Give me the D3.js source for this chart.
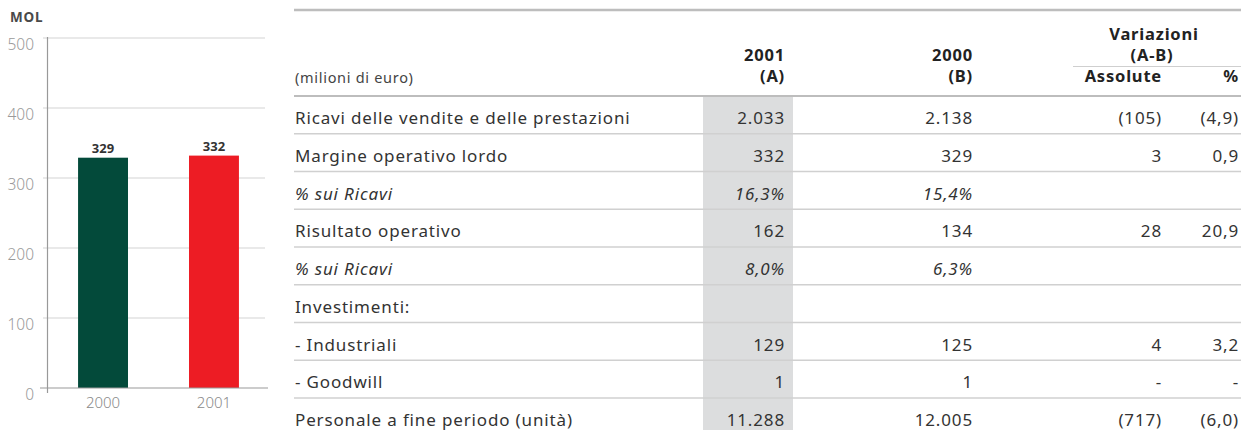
<!DOCTYPE html>
<html>
<head>
<meta charset="utf-8">
<script src="https://cdn.jsdelivr.net/npm/d3@7"></script>
<style>
  body { margin: 0; background: #fff; }
  svg { display: block; }
  text { font-family: "Noto Sans", "Open Sans", sans-serif; }
</style>
</head>
<body>
<div id="chart"></div>
<script>
// Bar chart data (MOL)
const years = ["2000", "2001"];
const molValues = [329, 332];
const molColors = ["#034a3a", "#ed1c24"];
const yTicks = [0, 100, 200, 300, 400, 500];

// Table data
const rowLabels = [
  "Ricavi delle vendite e delle prestazioni",
  "Margine operativo lordo",
  "% sui Ricavi",
  "Risultato operativo",
  "% sui Ricavi",
  "Investimenti:",
  "- Industriali",
  "- Goodwill",
  "Personale a fine periodo (unità)"
];
const colA = ["2.033", "332", "16,3%", "162", "8,0%", "", "129", "1", "11.288"];
const colB = ["2.138", "329", "15,4%", "134", "6,3%", "", "125", "1", "12.005"];
const varAbs = ["(105)", "3", "", "28", "", "", "4", "-", "(717)"];
const varPct = ["(4,9)", "0,9", "", "20,9", "", "", "3,2", "-", "(6,0)"];
const italicRows = [false, false, true, false, true, false, false, false, false];

const width = 1241, height = 430;

const svg = d3.select("#chart")
  .append("svg")
  .attr("width", width)
  .attr("height", height);

// ---- Bar chart ----
const x = d3.scaleBand().domain(years).range([47, 270]).paddingInner(0.55).paddingOuter(0.28);
const y = d3.scaleLinear().domain([0, 500]).range([388, 38]);

svg.append("text")
  .attr("x", 10).attr("y", 22)
  .attr("font-size", 13.5).attr("font-weight", "bold")
  .attr("letter-spacing", 0.8)
  .attr("fill", "#4a4a4a")
  .text("MOL");

// gridlines
svg.append("g")
  .selectAll("line")
  .data(yTicks.filter(d => d > 0))
  .enter()
  .append("line")
  .attr("x1", 43).attr("x2", 265)
  .attr("y1", d => y(d)).attr("y2", d => y(d))
  .attr("stroke", "#e2e2e2")
  .attr("stroke-width", 1.5);

// y tick labels (sit a bit below each gridline)
svg.append("g")
  .selectAll("text")
  .data(yTicks)
  .enter()
  .append("text")
  .attr("x", 34)
  .attr("y", d => y(d) + 12)
  .attr("text-anchor", "end")
  .attr("font-size", 15.5)
  .attr("font-weight", 300)
  .attr("fill", "#9a9a9a")
  .text(d => d);

// bars
svg.append("g")
  .selectAll("rect")
  .data(molValues)
  .enter()
  .append("rect")
  .attr("x", (d, i) => x(years[i]))
  .attr("y", d => y(d))
  .attr("width", x.bandwidth())
  .attr("height", d => y(0) - y(d))
  .attr("fill", (d, i) => molColors[i]);

svg.append("g")
  .selectAll("text")
  .data(molValues)
  .enter()
  .append("text")
  .attr("x", (d, i) => x(years[i]) + x.bandwidth() / 2)
  .attr("y", d => y(d) - 5)
  .attr("text-anchor", "middle")
  .attr("font-size", 13)
  .attr("font-weight", "bold")
  .attr("fill", "#333")
  .text(d => d);

// axes lines
svg.append("line")
  .attr("x1", 47.5).attr("x2", 47.5)
  .attr("y1", 37).attr("y2", 393)
  .attr("stroke", "#999").attr("stroke-width", 1.2);
svg.append("line")
  .attr("x1", 40).attr("x2", 268)
  .attr("y1", y(0)).attr("y2", y(0))
  .attr("stroke", "#999").attr("stroke-width", 1.2);

// x labels
svg.append("g")
  .selectAll("text")
  .data(years)
  .enter()
  .append("text")
  .attr("x", d => x(d) + x.bandwidth() / 2)
  .attr("y", 408)
  .attr("text-anchor", "middle")
  .attr("font-size", 15)
  .attr("font-weight", 300)
  .attr("fill", "#8a8a8a")
  .text(d => d);

// ---- Table ----
const tLeft = 295, tRight = 1241;
const colX = { a: 785, b: 973, abs: 1162, pct: 1239 };
const rowY = d3.scaleLinear().domain([0, rowLabels.length]).range([96, 96 + 37.75 * rowLabels.length]);

const tbl = svg.append("g");

// shaded 2001 column
tbl.append("rect")
  .attr("x", 703).attr("y", rowY(0))
  .attr("width", 90).attr("height", height - rowY(0))
  .attr("fill", "#dcddde");

// top rule
tbl.append("line")
  .attr("x1", tLeft - 1).attr("x2", tRight)
  .attr("y1", 10).attr("y2", 10)
  .attr("stroke", "#bdbdbd").attr("stroke-width", 2.5);

// header
const headBold = (tx, ty, t, anchor) => tbl.append("text")
  .attr("x", tx).attr("y", ty)
  .attr("text-anchor", anchor || "end")
  .attr("font-size", 16.5).attr("font-weight", "bold")
  .attr("letter-spacing", 0.8)
  .attr("fill", "#222")
  .text(t);

headBold(1154, 40, "Variazioni", "middle");
headBold(1152, 61, "(A-B)", "middle");
headBold(colX.a, 61, "2001");
headBold(colX.a, 82, "(A)");
headBold(colX.b, 61, "2000");
headBold(colX.b, 82, "(B)");
headBold(colX.abs, 82, "Assolute");
headBold(colX.pct, 82, "%");

tbl.append("line")
  .attr("x1", 1073).attr("x2", tRight)
  .attr("y1", 66.5).attr("y2", 66.5)
  .attr("stroke", "#cfcfcf").attr("stroke-width", 1.2);

tbl.append("text")
  .attr("x", tLeft).attr("y", 83)
  .attr("font-size", 14.5)
  .attr("letter-spacing", 0.7)
  .attr("fill", "#444")
  .text("(milioni di euro)");

// row rules
tbl.append("g")
  .selectAll("line")
  .data(d3.range(rowLabels.length))
  .enter()
  .append("line")
  .attr("x1", tLeft - 1).attr("x2", tRight)
  .attr("y1", d => rowY(d)).attr("y2", d => rowY(d))
  .attr("stroke", d => d === 0 ? "#bdbdbd" : "#d0d0d0")
  .attr("stroke-width", d => d === 0 ? 2.2 : 1.5);

// row texts
const rows = tbl.append("g")
  .selectAll("g")
  .data(rowLabels)
  .enter()
  .append("g")
  .attr("transform", (d, i) => `translate(0,${rowY(i) + 28})`)
  .attr("font-size", 17)
  .attr("letter-spacing", 0.85)
  .attr("fill", "#333")
  .attr("font-style", (d, i) => italicRows[i] ? "italic" : "normal");

rows.append("text").attr("x", tLeft).text(d => d);
rows.append("text").attr("x", colX.a).attr("text-anchor", "end").text((d, i) => colA[i]);
rows.append("text").attr("x", colX.b).attr("text-anchor", "end").text((d, i) => colB[i]);
rows.append("text").attr("x", colX.abs).attr("text-anchor", "end").text((d, i) => varAbs[i]);
rows.append("text").attr("x", colX.pct).attr("text-anchor", "end").text((d, i) => varPct[i]);
</script>
</body>
</html>
